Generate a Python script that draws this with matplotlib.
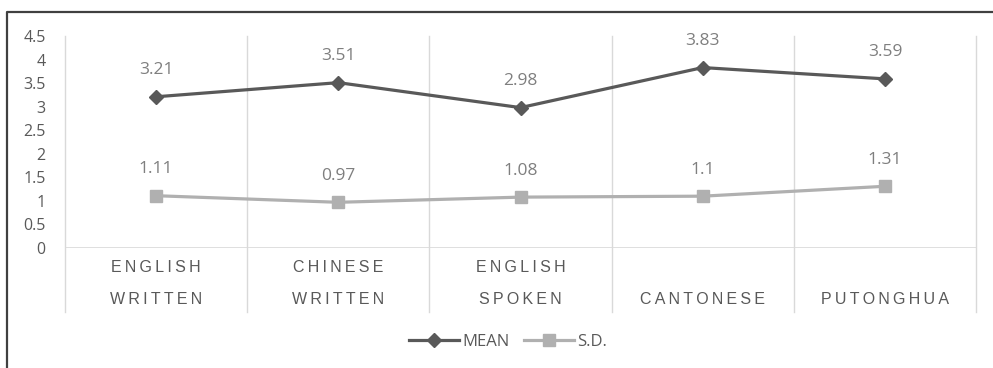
import matplotlib
matplotlib.use("Agg")
import matplotlib.pyplot as plt
from matplotlib.lines import Line2D

categories = [["ENGLISH", "WRITTEN"], ["CHINESE", "WRITTEN"], ["ENGLISH", "SPOKEN"],
              ["CANTONESE"], ["PUTONGHUA"]]
mean_values = [3.21, 3.51, 2.98, 3.83, 3.59]
sd_values = [1.11, 0.97, 1.08, 1.10, 1.31]
mean_labels = ["3.21", "3.51", "2.98", "3.83", "3.59"]
sd_labels = ["1.11", "0.97", "1.08", "1.1", "1.31"]
y_ticks = [0, 0.5, 1, 1.5, 2, 2.5, 3, 3.5, 4, 4.5]
y_tick_labels = ["0", "0.5", "1", "1.5", "2", "2.5", "3", "3.5", "4", "4.5"]

W, H = 993, 368
DPI = 100
fig = plt.figure(figsize=(W / DPI, H / DPI), dpi=DPI)
fig.patch.set_facecolor("white")

# axes box in pixel terms: x 65..976, y 36..248 (top-down)
ax = fig.add_axes([65 / W, (H - 248) / H, (976 - 65) / W, (248 - 36) / H])
ax.set_xlim(-0.5, len(mean_values) - 0.5)
ax.set_ylim(0, 4.5)
for s in ax.spines.values():
    s.set_visible(False)
ax.set_xticks([])
ax.set_yticks(y_ticks)
ax.set_yticklabels(y_tick_labels)
ax.tick_params(axis="y", length=0, pad=14, labelsize=11.5, labelcolor="#595959")
for lbl in ax.get_yticklabels():
    lbl.set_fontfamily("Open Sans")

grid_color = "#d9d9d9"
below = -64 / 212  # grid lines run down through the category label band
for b in [i - 0.5 for i in range(len(mean_values) + 1)]:
    ax.plot([b, b], [below * 4.5, 4.5], color=grid_color, lw=1.0, clip_on=False, zorder=1)
ax.axhline(0, color=grid_color, lw=1.2, zorder=1)

xs = list(range(len(mean_values)))
mean_color = "#595959"
sd_color = "#b0b0b0"
ax.plot(xs, mean_values, color=mean_color, lw=2.3, marker="D", ms=7, zorder=3,
        label="MEAN")
ax.plot(xs, sd_values, color=sd_color, lw=2.3, marker="s", ms=8, zorder=3,
        label="S.D.")

for x, v, t in zip(xs, mean_values, mean_labels):
    ax.annotate(t, (x, v), xytext=(0, 19), textcoords="offset points", ha="center",
                va="center", fontsize=12.5, color="#7f7f7f", fontfamily="Open Sans")
for x, v, t in zip(xs, sd_values, sd_labels):
    ax.annotate(t, (x, v), xytext=(0, 19), textcoords="offset points", ha="center",
                va="center", fontsize=12.5, color="#7f7f7f", fontfamily="Open Sans")

# letter-spaced category labels (thin spaces between letters)
THIN = "\u2009"
trans = ax.get_xaxis_transform()
for x, lines in zip(xs, categories):
    rows = [299] if len(lines) == 1 else [268, 299]
    for row_y, word in zip(rows, lines):
        ax.text(x, -(row_y - 248) / 212, THIN.join(word), transform=trans,
                ha="center", va="center", fontsize=11.5, color="#595959",
                family=["Liberation Sans", "DejaVu Sans"])

leg = fig.legend(loc="center", bbox_to_anchor=(508 / W, 1 - 342 / H), ncol=2,
                 frameon=False, handlelength=3.0, columnspacing=0.9,
                 handletextpad=0.2, prop={"family": "Open Sans", "size": 12})
for t in leg.get_texts():
    t.set_color("#595959")

# outer chart frame (left and top edges)
fig.add_artist(Line2D([7 / W, 7 / W, 1.0], [0.0, 1 - 12 / H, 1 - 12 / H],
                      transform=fig.transFigure, color="#404040", lw=1.6))

fig.savefig("out.png", dpi=DPI, facecolor="white")
